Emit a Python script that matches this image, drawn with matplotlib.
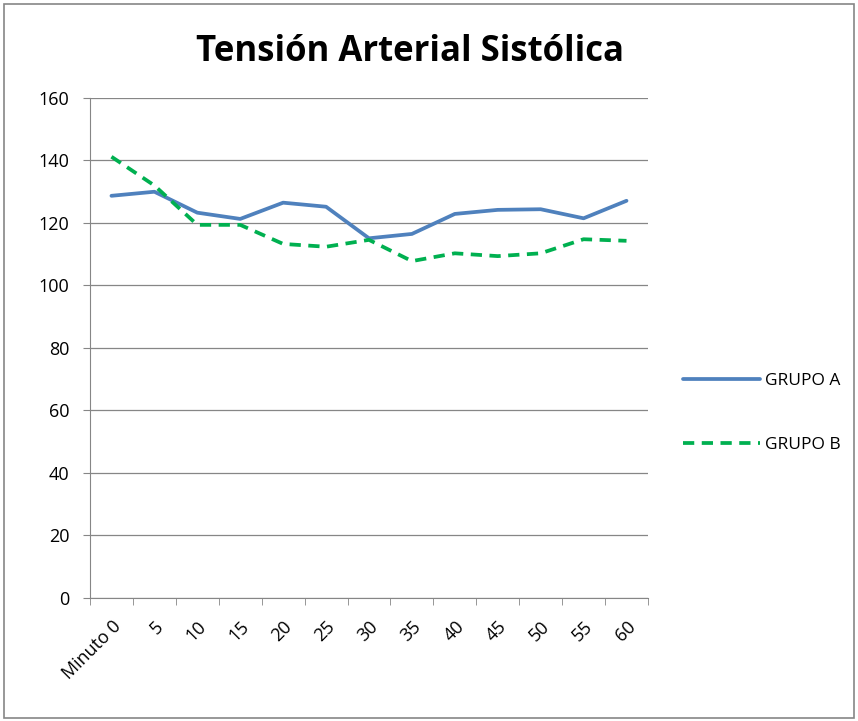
import numpy as np
import matplotlib.pyplot as plt
from matplotlib.patches import Rectangle

minutos = ["Minuto 0", "5", "10", "15", "20", "25", "30", "35", "40", "45", "50", "55", "60"]
grupo_a = [128.7, 130.0, 123.3, 121.3, 126.5, 125.2, 115.1, 116.5, 122.9, 124.2, 124.4, 121.5, 127.1]
grupo_b = [141.2, 132.0, 119.4, 119.4, 113.3, 112.4, 114.6, 107.8, 110.3, 109.4, 110.3, 114.8, 114.3]

plt.rcParams['font.family'] = ['Open Sans', 'DejaVu Sans']
gris = '#868686'

fig = plt.figure(figsize=(8.58, 7.21), dpi=100)
ax = fig.add_axes([0.1049, 0.1706, 0.6503, 0.6935])

x = np.arange(len(minutos))
ax.plot(x, grupo_a, color='#4F81BD', lw=2.7, label='GRUPO A', solid_capstyle='round')
ax.plot(x, grupo_b, color='#00B050', lw=2.7, ls=(0, (3.0, 2.0)), label='GRUPO B')

ax.set_xlim(-0.5, len(minutos) - 0.5)
ax.set_ylim(0, 160)
ax.set_yticks(range(0, 161, 20))
ax.yaxis.grid(True, color=gris, lw=0.9)
ax.set_axisbelow(True)

ax.set_xticks(x)
ax.set_xticklabels(minutos, rotation=45, ha='right', va='top', rotation_mode='anchor')
ax.set_xticks(np.arange(-0.5, len(minutos)), minor=True)
ax.tick_params(axis='x', which='major', length=0, pad=14, labelsize=13)
ax.tick_params(axis='x', which='minor', length=5, color=gris)
ax.tick_params(axis='y', length=5, color=gris, labelsize=13, pad=10)

for lado in ['top', 'right']:
    ax.spines[lado].set_visible(False)
for lado in ['left', 'bottom']:
    ax.spines[lado].set_color(gris)

fig.text(0.478, 0.928, 'Tensión Arterial Sistólica', ha='center', va='center',
         fontsize=25, fontweight='bold')

ax.legend(loc='center left', bbox_to_anchor=(1.035, 0.37), frameon=False,
          fontsize=12.5, handlelength=4.4, labelspacing=2.8, handletextpad=0.3)

fig.patches.append(Rectangle((0.005, 0.004), 0.99, 0.99, transform=fig.transFigure,
                             fill=False, edgecolor=gris, lw=1.2))

fig.savefig('out.png', dpi=100)
